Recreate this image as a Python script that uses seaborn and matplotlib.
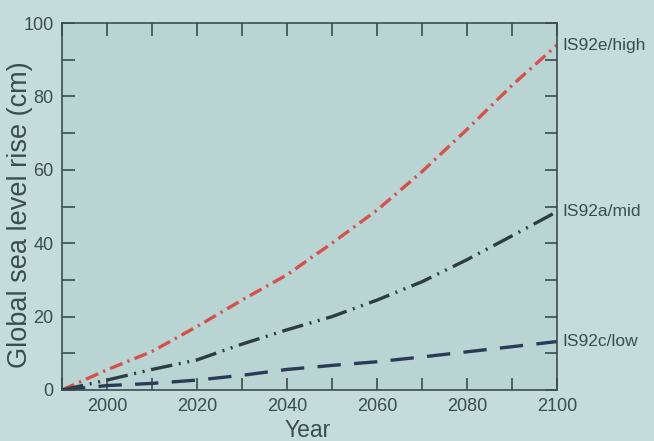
import matplotlib
matplotlib.use("Agg")
import matplotlib.pyplot as plt
import seaborn as sns
from matplotlib.ticker import MultipleLocator

# ----------------------------------------------------
# Data (cm of sea level rise)
# ----------------------------------------------------
YEARS = [1990, 2000, 2010, 2020, 2030, 2040, 2050, 2060, 2070, 2080, 2090, 2100]
HIGH = [0.0, 5.5, 10.5, 17.3, 24.5, 31.4, 40.0, 49.0, 59.5, 71.0, 83.0, 94.0]
MID = [0.0, 2.7, 5.6, 8.2, 12.5, 16.4, 20.0, 24.5, 29.5, 35.5, 42.0, 48.6]
LOW = [0.0, 1.2, 1.8, 2.7, 4.0, 5.6, 6.7, 7.7, 9.0, 10.4, 11.8, 13.2]
LABELS = ["IS92e/high", "IS92a/mid", "IS92c/low"]

AX_BG = "#b9d5d3"
FIG_BG = "#c4dcdb"
INK = "#3a4d4f"

sns.set_theme(style="ticks")
plt.rcParams["font.family"] = ["Liberation Sans", "DejaVu Sans"]

fig = plt.figure(figsize=(6.54, 4.41), dpi=100, facecolor=FIG_BG)
ax = fig.add_axes([62 / 654, 1 - 390 / 441, 495 / 654, 367 / 441])
ax.set_facecolor(AX_BG)

sns.lineplot(x=YEARS, y=HIGH, ax=ax, color="#d9504a", linewidth=2.4,
             linestyle=(0, (4, 1.6, 0.7, 1.6)))
sns.lineplot(x=YEARS, y=MID, ax=ax, color="#2c3e44", linewidth=2.4,
             linestyle=(0, (6.5, 2, 0.6, 2, 0.6, 2)))
sns.lineplot(x=YEARS, y=LOW, ax=ax, color="#2b3b55", linewidth=2.4,
             linestyle=(0, (7, 4)))

ax.set_xlim(1990, 2100)
ax.set_ylim(0, 100)
ax.set_xticks([2000, 2020, 2040, 2060, 2080, 2100])
ax.set_yticks([0, 20, 40, 60, 80, 100])
ax.xaxis.set_minor_locator(MultipleLocator(10))
ax.yaxis.set_minor_locator(MultipleLocator(10))
ax.tick_params(which="both", direction="in", top=True, right=True,
               length=9, width=1.2, color=INK, labelcolor=INK,
               labelsize=13, pad=6)
for s in ax.spines.values():
    s.set_color(INK)
    s.set_linewidth(1.2)

ax.set_xlabel("Year", fontsize=16.5, color=INK)
ax.xaxis.set_label_coords(0.496, -0.078)
ax.set_ylabel("Global sea level rise (cm)", fontsize=19.5, color=INK)
ax.yaxis.set_label_coords(-0.058, 0.477)

for name, series in zip(LABELS, [HIGH, MID, LOW]):
    ax.annotate(name, xy=(1.0, series[-1]), xycoords=("axes fraction", "data"),
                xytext=(4, 0), textcoords="offset points",
                ha="left", va="center", fontsize=12.5, color=INK)

fig.savefig("out.png", dpi=100, facecolor=FIG_BG)
